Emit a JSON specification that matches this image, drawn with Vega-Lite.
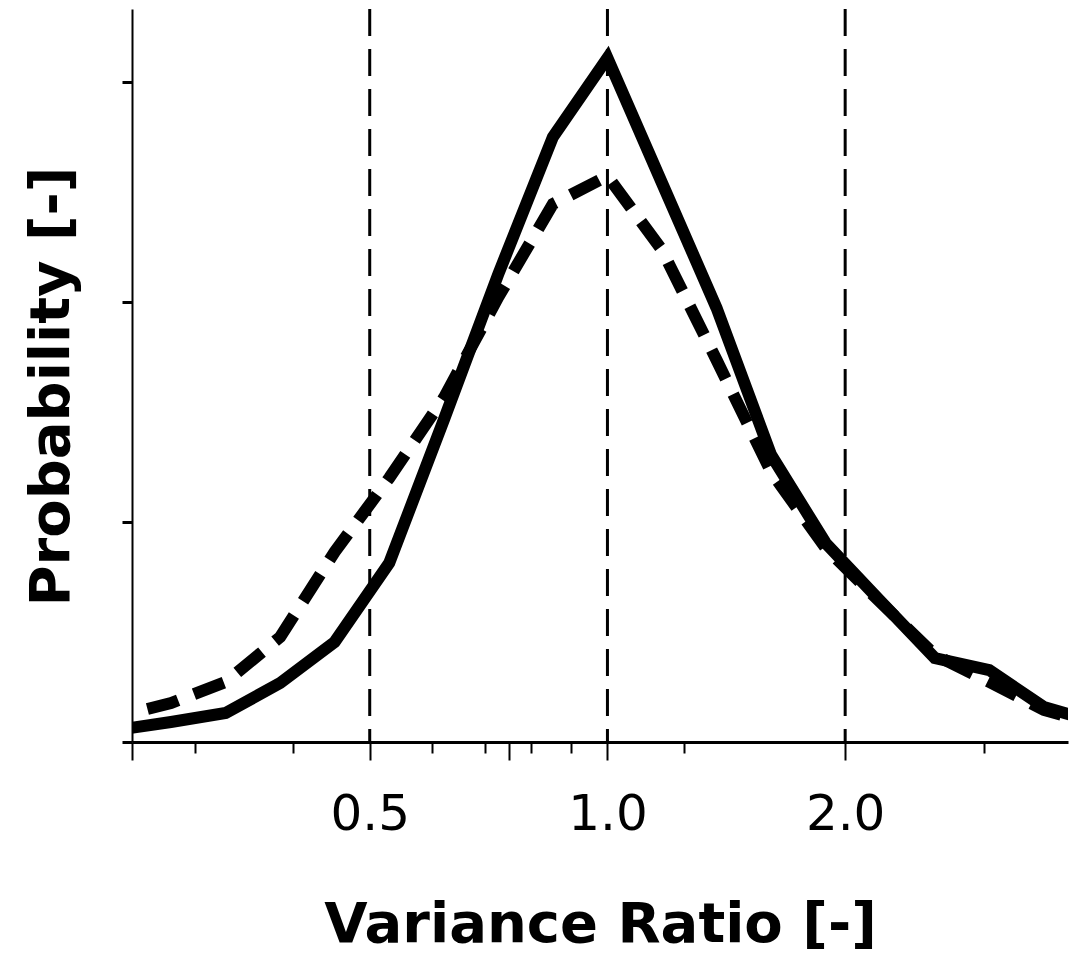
{
  "$schema": "https://vega.github.io/schema/vega-lite/v6.json",
  "width": 936,
  "height": 733,
  "autosize": {"type": "none"},
  "padding": {"left": 132, "top": 9, "right": 14, "bottom": 213},
  "config": {
    "view": {"stroke": null},
    "axis": {"domainColor": "black", "tickColor": "black", "labelColor": "black", "titleColor": "black", "grid": false}
  },
  "datasets": {
    "solid": [
      {"ratio": 0.2389, "prob": 0.00164},
      {"ratio": 0.2801, "prob": 0.00273},
      {"ratio": 0.3285, "prob": 0.00396},
      {"ratio": 0.3851, "prob": 0.00805},
      {"ratio": 0.4514, "prob": 0.01364},
      {"ratio": 0.5293, "prob": 0.02442},
      {"ratio": 0.6205, "prob": 0.04393},
      {"ratio": 0.7275, "prob": 0.06385},
      {"ratio": 0.8529, "prob": 0.08254},
      {"ratio": 1.0, "prob": 0.09332},
      {"ratio": 1.1724, "prob": 0.07626},
      {"ratio": 1.3746, "prob": 0.05921},
      {"ratio": 1.6117, "prob": 0.03915},
      {"ratio": 1.8893, "prob": 0.02715},
      {"ratio": 2.2151, "prob": 0.01924},
      {"ratio": 2.5971, "prob": 0.01146},
      {"ratio": 3.0449, "prob": 0.00982},
      {"ratio": 3.5695, "prob": 0.00477},
      {"ratio": 4.1853, "prob": 0.00259}
    ],
    "dashed": [
      {"ratio": 0.2389, "prob": 0.00341},
      {"ratio": 0.2801, "prob": 0.00532},
      {"ratio": 0.3285, "prob": 0.00819},
      {"ratio": 0.3851, "prob": 0.01432},
      {"ratio": 0.4514, "prob": 0.02592},
      {"ratio": 0.5293, "prob": 0.03602},
      {"ratio": 0.6205, "prob": 0.04693},
      {"ratio": 0.7275, "prob": 0.06071},
      {"ratio": 0.8529, "prob": 0.0734},
      {"ratio": 1.0, "prob": 0.07722},
      {"ratio": 1.1724, "prob": 0.06712},
      {"ratio": 1.3746, "prob": 0.05211},
      {"ratio": 1.6117, "prob": 0.03683},
      {"ratio": 1.8893, "prob": 0.02647},
      {"ratio": 2.2151, "prob": 0.0191},
      {"ratio": 2.5971, "prob": 0.01187},
      {"ratio": 3.0449, "prob": 0.00819},
      {"ratio": 3.5695, "prob": 0.00437},
      {"ratio": 4.1853, "prob": 0.00232}
    ],
    "refs": [{"ratio": 0.5}, {"ratio": 1.0}, {"ratio": 2.0}]
  },
  "layer": [
    {
      "data": {"name": "refs"},
      "mark": {"type": "rule", "color": "black", "strokeWidth": 3, "strokeDash": [27, 13]},
      "encoding": {
        "x": {
          "field": "ratio", "type": "quantitative",
          "scale": {"type": "log", "domain": [0.25, 3.83], "nice": false},
          "axis": {
            "values": [0.25, 0.3, 0.4, 0.5, 0.6, 0.7, 0.75, 0.8, 0.9, 1, 1.25, 2, 3],
            "labelExpr": "datum.value == 0.5 || datum.value == 1 || datum.value == 2 ? format(datum.value, '.1f') : ''",
            "labelFont": "DejaVu Sans",
            "labelFontSize": 50,
            "labelPadding": 29,
            "labelFlush": false,
            "labelOverlap": false,
            "tickSize": {"condition": {"test": "indexof([0.25, 0.5, 0.75, 1, 2], datum.value) >= 0", "value": 18}, "value": 11},
            "tickWidth": 2,
            "domainWidth": 3,
            "title": "Variance Ratio [-]",
            "titleFont": "DejaVu Sans",
            "titleFontSize": 56,
            "titleFontWeight": "bold",
            "titlePadding": 58
          }
        }
      }
    },
    {
      "data": {"name": "dashed"},
      "mark": {"type": "line", "color": "black", "strokeWidth": 12, "strokeDash": [32, 17], "strokeDashOffset": 17, "clip": true},
      "encoding": {
        "x": {"field": "ratio", "type": "quantitative"},
        "y": {
          "field": "prob", "type": "quantitative",
          "scale": {"domain": [0, 0.1], "nice": false},
          "axis": {
            "values": [0, 0.03, 0.06, 0.09],
            "labels": false,
            "tickSize": 10,
            "tickWidth": 3,
            "domainWidth": 2,
            "title": "Probability [-]",
            "titleFont": "DejaVu Sans",
            "titleFontSize": 56,
            "titleFontWeight": "bold",
            "titlePadding": 40,
            "titleY": 377
          }
        }
      }
    },
    {
      "data": {"name": "solid"},
      "mark": {"type": "line", "color": "black", "strokeWidth": 12, "clip": true},
      "encoding": {
        "x": {"field": "ratio", "type": "quantitative"},
        "y": {"field": "prob", "type": "quantitative"}
      }
    }
  ]
}
